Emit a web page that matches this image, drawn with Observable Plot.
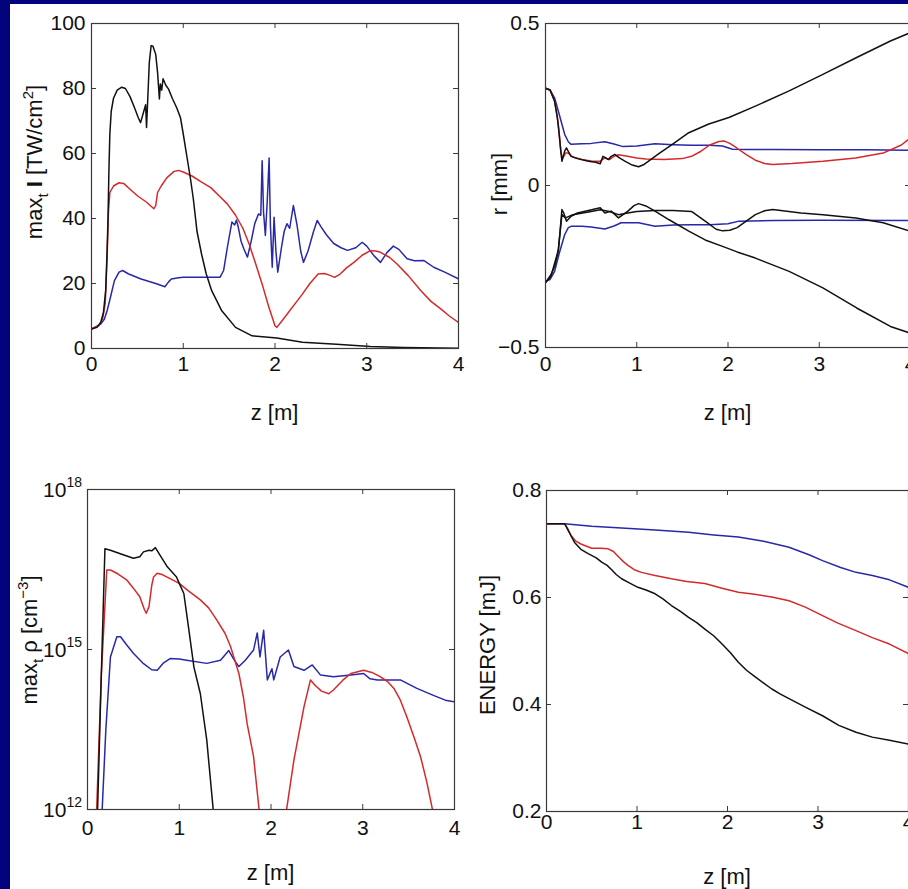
<!DOCTYPE html>
<html><head><meta charset="utf-8">
<script src="https://cdn.jsdelivr.net/npm/d3@7"></script>
<script src="https://cdn.jsdelivr.net/npm/@observablehq/plot@0.6"></script>
<style>
html,body{margin:0;padding:0;background:#03037d;overflow:hidden;}
#wrap{position:relative;width:908px;height:889px;overflow:hidden;background:#03037d;}
#paper{position:absolute;left:10px;top:4px;width:898px;height:885px;background:#fff;}
#wrap svg.panel{position:absolute;}
</style></head>
<body><div id="wrap"><div id="paper"></div></div>
<script>
// ---------- ticks ----------
const zTicks = [0, 1, 2, 3, 4];
const intensityTicks = [0, 20, 40, 60, 80, 100];
const radiusTicks = [-0.5, 0, 0.5];
const densityTicks = [1e12, 1e15, 1e18];
const energyTicks = [0.2, 0.4, 0.6, 0.8];

// ---------- panel 1: max_t I [TW/cm^2] vs z ----------
const intensityBlack = [[0,6],[0.06,6.5],[0.1,8],[0.13,11],[0.155,18],[0.17,30],[0.18,40],[0.19,55],[0.2,66],[0.215,73],[0.24,77],[0.28,79.5],[0.33,80.4],[0.37,80],[0.42,77.5],[0.47,74],[0.51,71],[0.535,69.5],[0.56,72],[0.59,75],[0.6,68],[0.615,78],[0.63,88],[0.65,93.2],[0.67,93],[0.7,90.5],[0.72,85],[0.74,76.8],[0.75,81.4],[0.765,79.5],[0.78,83],[0.81,81],[0.84,79.8],[0.88,77],[0.93,74],[0.97,71],[1.0,66],[1.04,59],[1.08,52],[1.11,46],[1.15,36],[1.2,29],[1.25,23],[1.31,17.8],[1.42,11.6],[1.57,6.5],[1.75,3.9],[2.02,3.2],[2.3,1.9],[2.67,1.3],[3.04,0.6],[3.4,0.3],[4,0.1]];
const intensityRed = [[0,6],[0.08,7],[0.12,9],[0.15,14],[0.17,28],[0.185,42],[0.2,48],[0.24,50],[0.3,51],[0.35,50.8],[0.42,49],[0.5,47],[0.6,45],[0.68,43],[0.7,44],[0.72,48],[0.76,50],[0.82,52.5],[0.9,54.5],[0.95,54.8],[1.0,54.3],[1.1,53],[1.2,51.2],[1.3,49.5],[1.39,47],[1.48,44.5],[1.57,41],[1.65,37],[1.72,32],[1.79,26],[1.86,19.8],[1.93,13],[2.0,7],[2.02,6.5],[2.09,9],[2.16,11.6],[2.23,14.2],[2.3,16.8],[2.38,20],[2.47,22.9],[2.54,23.1],[2.6,22.5],[2.65,21.9],[2.71,22.9],[2.78,24.8],[2.86,26.5],[2.95,28.7],[3.04,30.1],[3.1,30],[3.15,29.6],[3.25,28],[3.33,26],[3.45,22.5],[3.59,17.8],[3.7,14.5],[3.81,12.1],[3.9,10],[4.0,8]];
const intensityBlue = [[0,6],[0.1,7.5],[0.14,9],[0.17,11.6],[0.2,15],[0.25,20.9],[0.3,23.5],[0.34,24],[0.4,23],[0.54,21.4],[0.7,20],[0.8,19],[0.84,20.5],[0.87,21.4],[0.95,21.8],[1.0,21.9],[1.2,21.9],[1.4,21.9],[1.44,24],[1.48,31],[1.53,38.9],[1.56,38],[1.58,39.5],[1.6,37.3],[1.63,33],[1.66,30.7],[1.7,28.1],[1.74,33],[1.78,38.5],[1.82,41.4],[1.845,41],[1.86,57.8],[1.875,42],[1.895,34.8],[1.915,45],[1.936,58.6],[1.95,38],[1.97,25],[1.99,40.4],[2.01,30],[2.03,23.5],[2.07,31],[2.1,36],[2.13,38.4],[2.16,37],[2.2,44],[2.24,38],[2.28,30],[2.31,26.5],[2.36,30],[2.42,36],[2.46,39.4],[2.5,37.5],[2.56,35],[2.64,32.3],[2.72,31],[2.79,30.2],[2.88,31],[2.95,32.7],[3.0,31.5],[3.08,28.5],[3.15,26.5],[3.22,29.5],[3.29,31.5],[3.35,30.5],[3.44,27.6],[3.52,27],[3.62,27.1],[3.73,25],[3.85,23.5],[4.0,21.4]];

// ---------- panel 2: r [mm] vs z ----------
const radiusBlackUpper = [[0,0.3],[0.05,0.295],[0.1,0.26],[0.13,0.21],[0.15,0.158],[0.17,0.1],[0.18,0.075],[0.2,0.095],[0.21,0.106],[0.23,0.116],[0.25,0.105],[0.28,0.09],[0.35,0.083],[0.47,0.075],[0.55,0.072],[0.6,0.067],[0.63,0.09],[0.66,0.085],[0.69,0.08],[0.72,0.09],[0.76,0.096],[0.81,0.085],[0.87,0.075],[0.95,0.063],[1.02,0.058],[1.08,0.065],[1.13,0.075],[1.25,0.1],[1.39,0.127],[1.57,0.163],[1.79,0.19],[2.01,0.21],[2.3,0.245],[2.67,0.292],[3.04,0.343],[3.41,0.395],[3.78,0.446],[4.0,0.472]];
const radiusBlackLower = [[0,-0.3],[0.06,-0.275],[0.1,-0.25],[0.14,-0.203],[0.16,-0.14],[0.18,-0.074],[0.2,-0.085],[0.23,-0.11],[0.28,-0.095],[0.35,-0.085],[0.47,-0.077],[0.6,-0.069],[0.65,-0.085],[0.72,-0.079],[0.8,-0.1],[0.9,-0.08],[0.97,-0.062],[1.02,-0.056],[1.1,-0.063],[1.2,-0.079],[1.35,-0.105],[1.57,-0.141],[1.75,-0.168],[1.94,-0.188],[2.1,-0.205],[2.3,-0.224],[2.67,-0.265],[3.04,-0.316],[3.41,-0.378],[3.78,-0.435],[4.0,-0.456]];
const radiusRedUpper = [[0,0.3],[0.05,0.295],[0.1,0.26],[0.14,0.19],[0.17,0.1],[0.19,0.085],[0.22,0.1],[0.25,0.1],[0.3,0.088],[0.4,0.08],[0.5,0.076],[0.6,0.075],[0.65,0.085],[0.7,0.08],[0.75,0.09],[0.8,0.095],[0.9,0.09],[1.0,0.085],[1.1,0.082],[1.3,0.08],[1.5,0.083],[1.6,0.09],[1.7,0.105],[1.8,0.125],[1.9,0.136],[1.96,0.137],[2.02,0.13],[2.1,0.115],[2.2,0.095],[2.3,0.078],[2.4,0.068],[2.49,0.065],[2.7,0.068],[3.04,0.075],[3.4,0.085],[3.7,0.1],[3.9,0.125],[4.0,0.147]];
const radiusRedLower = [[0,-0.3],[0.06,-0.28],[0.14,-0.2],[0.18,-0.09],[0.22,-0.1],[0.3,-0.09],[0.5,-0.08],[0.6,-0.075],[0.7,-0.08],[0.8,-0.09],[0.9,-0.085],[1.0,-0.08],[1.2,-0.077],[1.4,-0.077],[1.6,-0.08],[1.75,-0.11],[1.87,-0.135],[1.94,-0.14],[2.02,-0.138],[2.1,-0.13],[2.2,-0.11],[2.3,-0.09],[2.4,-0.078],[2.49,-0.074],[2.6,-0.078],[2.8,-0.085],[3.04,-0.09],[3.4,-0.1],[3.7,-0.115],[4.0,-0.141]];
const radiusBlueUpper = [[0,0.3],[0.05,0.295],[0.1,0.27],[0.15,0.22],[0.21,0.158],[0.25,0.135],[0.28,0.127],[0.4,0.129],[0.5,0.13],[0.65,0.135],[0.75,0.128],[0.85,0.12],[1.0,0.122],[1.2,0.129],[1.4,0.126],[1.6,0.124],[1.8,0.124],[1.94,0.122],[2.05,0.112],[2.2,0.111],[2.5,0.111],[3.0,0.11],[3.5,0.11],[4.0,0.109]];
const radiusBlueLower = [[0,-0.296],[0.05,-0.29],[0.1,-0.265],[0.15,-0.21],[0.21,-0.152],[0.25,-0.13],[0.28,-0.126],[0.4,-0.126],[0.5,-0.128],[0.65,-0.134],[0.75,-0.125],[0.83,-0.115],[1.02,-0.115],[1.2,-0.126],[1.4,-0.122],[1.6,-0.121],[1.8,-0.121],[2.0,-0.118],[2.12,-0.11],[2.5,-0.108],[3.0,-0.107],[4.0,-0.108]];

// ---------- panel 3: log10 of max_t rho [cm^-3] vs z ----------
const densityBlack = [[0.1,10],[0.11,12],[0.15,14.5],[0.19,16.89],[0.25,16.86],[0.35,16.8],[0.5,16.71],[0.57,16.74],[0.61,16.83],[0.67,16.86],[0.7,16.85],[0.74,16.91],[0.79,16.77],[0.87,16.55],[0.97,16.36],[1.0,16.24],[1.05,16.05],[1.1,15.43],[1.16,14.67],[1.23,14.17],[1.3,13.3],[1.37,12],[1.42,10.5]];
const densityRedA = [[0.09,10],[0.1,12],[0.15,14.5],[0.21,16.49],[0.25,16.49],[0.33,16.42],[0.43,16.3],[0.5,16.15],[0.57,15.99],[0.62,15.75],[0.64,15.68],[0.67,15.8],[0.7,16.2],[0.72,16.36],[0.76,16.43],[0.82,16.4],[0.9,16.33],[1.0,16.24],[1.1,16.1],[1.23,15.93],[1.32,15.78],[1.41,15.55],[1.5,15.3],[1.56,15.05],[1.65,14.55],[1.7,14.1],[1.74,13.61],[1.81,12.99],[1.87,12],[1.9,11]];
const densityRedB = [[2.15,11],[2.17,12],[2.25,12.93],[2.36,13.93],[2.43,14.43],[2.48,14.33],[2.55,14.22],[2.63,14.17],[2.68,14.24],[2.78,14.42],[2.87,14.55],[3.01,14.61],[3.1,14.57],[3.19,14.49],[3.27,14.4],[3.34,14.27],[3.41,14.05],[3.48,13.74],[3.56,13.35],[3.63,12.99],[3.7,12.5],[3.76,12],[3.8,11]];
const densityBlue = [[0.15,10],[0.16,12],[0.2,13.5],[0.25,14.86],[0.32,15.24],[0.36,15.24],[0.43,15.08],[0.5,14.93],[0.6,14.75],[0.7,14.62],[0.76,14.61],[0.83,14.75],[0.9,14.83],[1.0,14.82],[1.08,14.8],[1.3,14.74],[1.45,14.8],[1.54,14.98],[1.6,14.8],[1.65,14.68],[1.72,14.8],[1.81,14.99],[1.85,15.31],[1.88,14.86],[1.92,15.36],[1.96,14.43],[2.01,14.64],[2.03,14.43],[2.1,14.86],[2.19,14.99],[2.25,14.68],[2.36,14.61],[2.45,14.71],[2.54,14.52],[2.68,14.49],[2.87,14.52],[3.01,14.55],[3.08,14.45],[3.16,14.43],[3.3,14.43],[3.41,14.43],[3.5,14.35],[3.59,14.27],[3.77,14.14],[3.9,14.05],[4,14.02]];

// ---------- panel 4: ENERGY [mJ] vs z ----------
const energyBlue = [[0,0.738],[0.2,0.738],[0.5,0.733],[0.83,0.730],[1.2,0.726],[1.57,0.722],[1.85,0.717],[2.12,0.713],[2.4,0.705],[2.68,0.694],[2.9,0.68],[3.05,0.669],[3.25,0.656],[3.42,0.647],[3.6,0.641],[3.79,0.633],[4,0.619]];
const energyRed = [[0,0.738],[0.2,0.738],[0.23,0.73],[0.27,0.716],[0.32,0.706],[0.38,0.700],[0.5,0.692],[0.6,0.692],[0.68,0.691],[0.74,0.686],[0.79,0.677],[0.85,0.667],[0.9,0.66],[0.97,0.652],[1.05,0.647],[1.2,0.641],[1.38,0.635],[1.55,0.63],[1.75,0.626],[1.95,0.617],[2.12,0.610],[2.3,0.606],[2.49,0.601],[2.68,0.594],[2.86,0.582],[3.05,0.566],[3.22,0.552],[3.42,0.538],[3.6,0.525],[3.79,0.513],[4,0.495]];
const energyBlack = [[0,0.738],[0.2,0.738],[0.25,0.722],[0.31,0.703],[0.38,0.69],[0.46,0.682],[0.55,0.674],[0.61,0.666],[0.67,0.66],[0.72,0.652],[0.77,0.643],[0.83,0.635],[0.92,0.627],[1.01,0.619],[1.1,0.614],[1.2,0.607],[1.29,0.597],[1.38,0.585],[1.48,0.574],[1.57,0.563],[1.66,0.553],[1.75,0.541],[1.85,0.528],[1.94,0.513],[2.03,0.497],[2.12,0.479],[2.21,0.464],[2.31,0.451],[2.4,0.44],[2.49,0.429],[2.58,0.42],[2.68,0.411],[2.86,0.395],[3.05,0.379],[3.23,0.361],[3.42,0.348],[3.6,0.339],[3.79,0.333],[4,0.326]];

const BLACK = "#111111", RED = "#d42a2a", BLUE = "#2828a8", FRAME = "#3a3a3a";
const FONT = "'Liberation Sans', Arial, Helvetica, sans-serif";
const plainFormat = d => d < 0 ? "\u2212" + String(-d) : String(d);

function buildPanel(cfg) {
  const {left, top, width, height, mL, mR, mT, mB, yScale, yTicks, lines, xPad, yPad, extra = []} = cfg;
  const innerW = width - mL - mR, innerH = height - mT - mB, tl = 5;
  const marks = [
    ...lines.map(s => Plot.line(s.data, {x: d => d[0], y: s.y || (d => d[1]), stroke: s.color, strokeWidth: 1.5, clip: true})),
    Plot.frame({stroke: FRAME, strokeWidth: 1.2}),
    Plot.tickX(zTicks, {x: d => d, insetTop: innerH - tl, stroke: FRAME}),
    Plot.tickX(zTicks, {x: d => d, insetBottom: innerH - tl, stroke: FRAME}),
    Plot.tickY(yTicks, {y: d => d, insetRight: innerW - tl, stroke: FRAME}),
    Plot.tickY(yTicks, {y: d => d, insetLeft: innerW - tl, stroke: FRAME}),
    Plot.axisX({ticks: zTicks, tickSize: 0, tickPadding: xPad, fontSize: 21, label: null, tickFormat: plainFormat})
  ];
  if (!cfg.powerTicks) marks.push(Plot.axisY({ticks: yTicks, tickSize: 0, tickPadding: yPad, fontSize: 21, label: null, tickFormat: plainFormat}));
  else marks.push(Plot.axisY({ticks: [], label: null}));
  const svg = Plot.plot({
    width, height,
    marginLeft: mL, marginRight: mR, marginTop: mT, marginBottom: mB,
    x: {domain: [0, 4]},
    y: yScale,
    style: {background: "transparent", overflow: "visible", fontFamily: FONT, color: "#111"},
    marks: [...marks, ...extra]
  });
  svg.classList.add("panel");
  svg.style.left = left + "px";
  svg.style.top = top + "px";
  document.getElementById("wrap").appendChild(svg);
  const s = d3.select(svg);
  // power-of-ten tick labels: "10" with a raised exponent, placed through the plot's y scale
  if (cfg.powerTicks) {
    const ys = svg.scale("y");
    for (const v of yTicks) {
      const t = s.append("text")
        .attr("x", mL - 5).attr("y", ys.apply(v))
        .attr("text-anchor", "end").style("font-family", FONT).style("font-size", "21px").attr("fill", "#111");
      t.append("tspan").attr("dy", "0.38em").text("10");
      t.append("tspan").attr("dy", -10).style("font-size", "14px").text(String(Math.round(Math.log10(v))));
    }
  }
  // x label
  s.append("text")
    .attr("x", mL + innerW / 2).attr("y", height - mB + cfg.xLabelDy)
    .attr("text-anchor", "middle").style("font-size", "22px").style("font-family", FONT).attr("fill", "#111")
    .text(cfg.xLabel);
  // y label with sub/superscript pieces
  const t = s.append("text")
    .attr("transform", `translate(${cfg.yLabelX},${cfg.yLabelY}) rotate(-90)`)
    .attr("text-anchor", "middle").style("font-size", "22px").style("font-family", FONT).attr("fill", "#111");
  for (const p of cfg.yLabel) {
    const ts = t.append("tspan").text(p.text);
    if (p.dy) ts.attr("dy", p.dy);
    if (p.size) ts.style("font-size", p.size + "px");
    if (p.bold) ts.style("font-weight", "bold");
  }
  return svg;
}

// Panel 1
buildPanel({
  left: 0, top: 0, width: 460, height: 440, mL: 91, mR: 2, mT: 23, mB: 92,
  yScale: {domain: [0, 100]}, yTicks: intensityTicks, xPad: 8, yPad: 6,
  lines: [
    {data: intensityBlue, color: BLUE},
    {data: intensityRed, color: RED},
    {data: intensityBlack, color: BLACK}
  ],
  xLabel: "z [m]", xLabelDy: 72,
  yLabelX: 42, yLabelY: 162,
  yLabel: [{text: "max"}, {text: "t", dy: 6, size: 15}, {text: " ", dy: -6}, {text: "I", bold: true}, {text: " [TW/cm"}, {text: "2", dy: -9, size: 15}, {text: "]", dy: 9}]
});

// Panel 2
buildPanel({
  left: 454, top: 0, width: 460, height: 440, mL: 91, mR: 4, mT: 23, mB: 93,
  yScale: {domain: [-0.5, 0.5]}, yTicks: radiusTicks, xPad: 9, yPad: 6,
  lines: [
    {data: radiusBlueUpper, color: BLUE},
    {data: radiusBlueLower, color: BLUE},
    {data: radiusRedUpper, color: RED},
    {data: radiusRedLower, color: BLACK},
    {data: radiusBlackUpper, color: BLACK},
    {data: radiusBlackLower, color: BLACK}
  ],
  xLabel: "z [m]", xLabelDy: 73,
  yLabelX: 53, yLabelY: 184,
  yLabel: [{text: "r [mm]"}]
});

// Panel 3 (log scale)
const exp10 = d => 10 ** d[1];
buildPanel({
  left: 0, top: 440, width: 460, height: 449, mL: 87, mR: 6, mT: 49, mB: 80,
  yScale: {type: "log", domain: [1e12, 1e18]}, yTicks: densityTicks, powerTicks: true, xPad: 11, yPad: 15,
  lines: [
    {data: densityBlue, color: BLUE, y: exp10},
    {data: densityRedA, color: RED, y: exp10},
    {data: densityRedB, color: RED, y: exp10},
    {data: densityBlack, color: BLACK, y: exp10}
  ],
  xLabel: "z [m]", xLabelDy: 71,
  yLabelX: 37, yLabelY: 200,
  yLabel: [{text: "max"}, {text: "t", dy: 6, size: 15}, {text: " ρ [cm", dy: -6}, {text: "−3", dy: -9, size: 15}, {text: "]", dy: 9}]
});

// Panel 4
buildPanel({
  left: 454, top: 440, width: 460, height: 449, mL: 92, mR: 6, mT: 50, mB: 78,
  yScale: {domain: [0.2, 0.8]}, yTicks: energyTicks, xPad: 3, yPad: 5,
  lines: [
    {data: energyBlue, color: BLUE},
    {data: energyRed, color: RED},
    {data: energyBlack, color: BLACK}
  ],
  xLabel: "z [m]", xLabelDy: 73,
  yLabelX: 41, yLabelY: 205,
  yLabel: [{text: "ENERGY [mJ]"}]
});
</script>
</body></html>
